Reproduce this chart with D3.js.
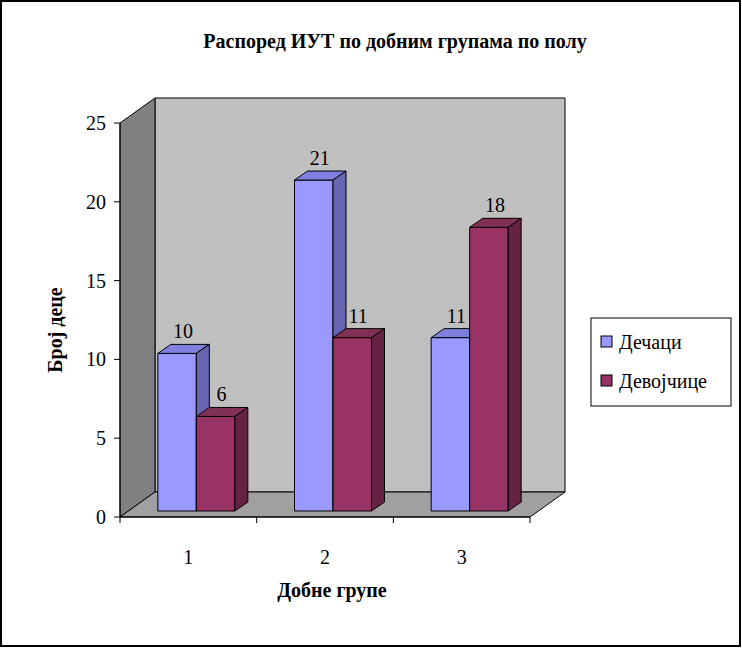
<!DOCTYPE html><html><head><meta charset="utf-8"><script src="https://cdn.jsdelivr.net/npm/d3@7"></script>
<style>body{margin:0;background:#fff}text{font-family:"Liberation Serif","Times New Roman",serif}</style></head><body>
<svg id="c" width="742" height="648"></svg>
<script>
const categories=["1","2","3"];
const seriesNames=["Дечаци","Девојчице"];
const boys=[10,21,11];
const girls=[6,11,18];
const yTicks=[0,5,10,15,20,25];
const colors=[{f:"#9999FF",s:"#6666B3",t:"#7F7FE0"},{f:"#993366",s:"#662244",t:"#803055"}];
const svg=d3.select("#c");
svg.append("rect").attr("x",1).attr("y",1).attr("width",739).attr("height",645).attr("fill","#fff").attr("stroke","#000").attr("stroke-width",2);
const x0=120,x1=530,DX=35,DY=-25;
const y=d3.scaleLinear().domain([0,25]).range([517,123]);
const x=d3.scaleBand().domain(categories).range([x0,x1]);
const g=svg.append("g");
const P=p=>p.map(a=>a.join(",")).join(" ");
// walls
g.append("polygon").attr("points",P([[x0+DX,y(25)+DY],[x1+DX,y(25)+DY],[x1+DX,y(0)+DY],[x0+DX,y(0)+DY]])).attr("fill","#C0C0C0").attr("stroke","#000");
g.append("polygon").attr("points",P([[x0,y(25)],[x0+DX,y(25)+DY],[x0+DX,y(0)+DY],[x0,y(0)]])).attr("fill","#808080").attr("stroke","#000");
g.append("polygon").attr("points",P([[x0,y(0)],[x0+DX,y(0)+DY],[x1+DX,y(0)+DY],[x1,y(0)]])).attr("fill","#A0A0A0").attr("stroke","#000");
// y axis
g.append("line").attr("x1",x0).attr("x2",x0).attr("y1",y(25)).attr("y2",y(0)).attr("stroke","#000");
yTicks.forEach(t=>{g.append("line").attr("x1",x0-6).attr("x2",x0).attr("y1",y(t)).attr("y2",y(t)).attr("stroke","#000");
g.append("text").attr("x",x0-14).attr("y",y(t)+7).attr("text-anchor","end").attr("font-size",20).text(t);});
g.append("line").attr("x1",x0).attr("x2",x1).attr("y1",y(0)).attr("y2",y(0)).attr("stroke","#000");
categories.forEach((c,i)=>{g.append("line").attr("x1",x(c)).attr("x2",x(c)).attr("y1",y(0)).attr("y2",y(0)+6).attr("stroke","#000");
g.append("text").attr("x",x(c)+x.bandwidth()/2).attr("y",564).attr("text-anchor","middle").attr("font-size",20).text(c);});
g.append("line").attr("x1",x1).attr("x2",x1).attr("y1",y(0)).attr("y2",y(0)+6).attr("stroke","#000");
// bars
const bw=38.5,dx=8,dy=-6,bdx=13,bdy=-9;
const sets=[boys,girls];
categories.forEach((c,i)=>{
 const start=x(c)+x.bandwidth()/2-bw+dx;
 sets.forEach((vals,s)=>{
  const v=vals[i],L=start+s*bw,R=L+bw,T=y(v)+dy,B=y(0)+dy,col=colors[s];
  g.append("polygon").attr("points",P([[L,B],[L,T],[R,T],[R,B]])).attr("fill",col.f).attr("stroke","#000");
  g.append("polygon").attr("points",P([[L,T],[L+bdx,T+bdy],[R+bdx,T+bdy],[R,T]])).attr("fill",col.t).attr("stroke","#000");
  g.append("polygon").attr("points",P([[R,T],[R+bdx,T+bdy],[R+bdx,B+bdy],[R,B]])).attr("fill",col.s).attr("stroke","#000");
  g.append("text").attr("x",L+bw/2+6).attr("y",T+bdy-6).attr("text-anchor","middle").attr("font-size",20).text(v);
 });
});
svg.append("text").attr("x",395).attr("y",48).attr("text-anchor","middle").attr("font-size",20).attr("font-weight","bold").text("Распоред ИУТ  по добним групама по полу");
svg.append("text").attr("transform","translate(62,330) rotate(-90)").attr("text-anchor","middle").attr("font-size",20).attr("font-weight","bold").text("Број деце");
svg.append("text").attr("x",332).attr("y",597).attr("text-anchor","middle").attr("font-size",20).attr("font-weight","bold").text("Добне групе");
const lg=svg.append("g");
lg.append("rect").attr("x",591).attr("y",318).attr("width",140).attr("height",88).attr("fill","#fff").attr("stroke","#000");
seriesNames.forEach((n,i)=>{const yy=342+i*39;
lg.append("rect").attr("x",601).attr("y",yy-6).attr("width",11).attr("height",11).attr("fill",colors[i].f).attr("stroke","#000");
lg.append("text").attr("x",619).attr("y",yy+7).attr("font-size",20).text(n);});
</script></body></html>
